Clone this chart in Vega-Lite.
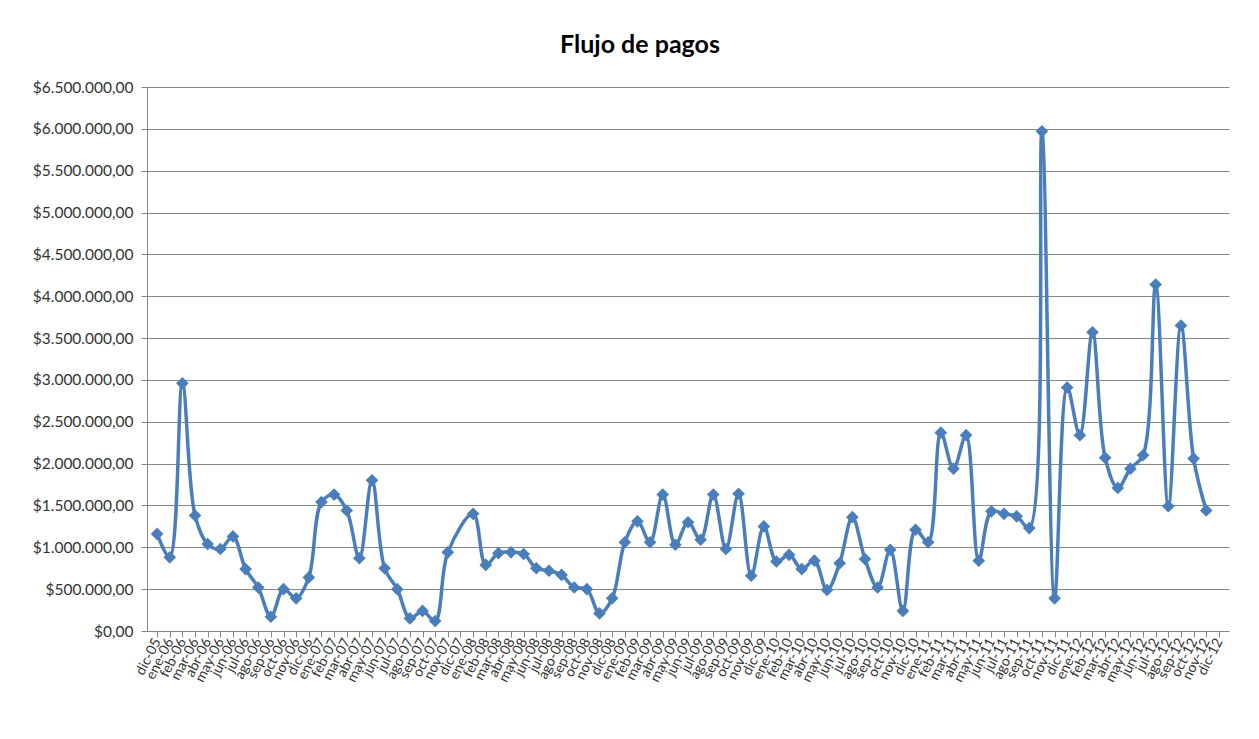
{
  "$schema": "https://vega.github.io/schema/vega-lite/v6.json",
  "width": 1082,
  "height": 544,
  "autosize": {"type": "none"},
  "padding": {"left": 147, "top": 87, "right": 30, "bottom": 108},
  "background": "white",
  "title": {
    "text": "Flujo de pagos",
    "font": "Lato",
    "fontSize": 25,
    "fontWeight": "bold",
    "color": "#000000",
    "anchor": "middle",
    "dx": -48,
    "offset": 22
  },
  "data": {
    "values": [
      {"mes": "dic-05", "pago": 1160000},
      {"mes": "ene-06", "pago": 880000},
      {"mes": "feb-06", "pago": 2960000},
      {"mes": "mar-06", "pago": 1380000},
      {"mes": "abr-06", "pago": 1040000},
      {"mes": "may-06", "pago": 980000},
      {"mes": "jun-06", "pago": 1130000},
      {"mes": "jul-06", "pago": 740000},
      {"mes": "ago-06", "pago": 520000},
      {"mes": "sep-06", "pago": 170000},
      {"mes": "oct-06", "pago": 500000},
      {"mes": "nov-06", "pago": 390000},
      {"mes": "dic-06", "pago": 640000},
      {"mes": "ene-07", "pago": 1540000},
      {"mes": "feb-07", "pago": 1630000},
      {"mes": "mar-07", "pago": 1440000},
      {"mes": "abr-07", "pago": 870000},
      {"mes": "may-07", "pago": 1800000},
      {"mes": "jun-07", "pago": 750000},
      {"mes": "jul-07", "pago": 500000},
      {"mes": "ago-07", "pago": 150000},
      {"mes": "sep-07", "pago": 240000},
      {"mes": "oct-07", "pago": 120000},
      {"mes": "nov-07", "pago": 940000},
      {"mes": "dic-07", "pago": null},
      {"mes": "ene-08", "pago": 1400000},
      {"mes": "feb-08", "pago": 790000},
      {"mes": "mar-08", "pago": 930000},
      {"mes": "abr-08", "pago": 940000},
      {"mes": "may-08", "pago": 920000},
      {"mes": "jun-08", "pago": 750000},
      {"mes": "jul-08", "pago": 720000},
      {"mes": "ago-08", "pago": 670000},
      {"mes": "sep-08", "pago": 520000},
      {"mes": "oct-08", "pago": 500000},
      {"mes": "nov-08", "pago": 210000},
      {"mes": "dic-08", "pago": 390000},
      {"mes": "ene-09", "pago": 1060000},
      {"mes": "feb-09", "pago": 1310000},
      {"mes": "mar-09", "pago": 1060000},
      {"mes": "abr-09", "pago": 1630000},
      {"mes": "may-09", "pago": 1030000},
      {"mes": "jun-09", "pago": 1300000},
      {"mes": "jul-09", "pago": 1090000},
      {"mes": "ago-09", "pago": 1630000},
      {"mes": "sep-09", "pago": 980000},
      {"mes": "oct-09", "pago": 1640000},
      {"mes": "nov-09", "pago": 660000},
      {"mes": "dic-09", "pago": 1250000},
      {"mes": "ene-10", "pago": 830000},
      {"mes": "feb-10", "pago": 910000},
      {"mes": "mar-10", "pago": 740000},
      {"mes": "abr-10", "pago": 840000},
      {"mes": "may-10", "pago": 490000},
      {"mes": "jun-10", "pago": 810000},
      {"mes": "jul-10", "pago": 1360000},
      {"mes": "ago-10", "pago": 860000},
      {"mes": "sep-10", "pago": 520000},
      {"mes": "oct-10", "pago": 970000},
      {"mes": "nov-10", "pago": 240000},
      {"mes": "dic-10", "pago": 1210000},
      {"mes": "ene-11", "pago": 1060000},
      {"mes": "feb-11", "pago": 2370000},
      {"mes": "mar-11", "pago": 1940000},
      {"mes": "abr-11", "pago": 2340000},
      {"mes": "may-11", "pago": 840000},
      {"mes": "jun-11", "pago": 1430000},
      {"mes": "jul-11", "pago": 1400000},
      {"mes": "ago-11", "pago": 1370000},
      {"mes": "sep-11", "pago": 1230000},
      {"mes": "oct-11", "pago": 5970000},
      {"mes": "nov-11", "pago": 390000},
      {"mes": "dic-11", "pago": 2910000},
      {"mes": "ene-12", "pago": 2340000},
      {"mes": "feb-12", "pago": 3570000},
      {"mes": "mar-12", "pago": 2070000},
      {"mes": "abr-12", "pago": 1710000},
      {"mes": "may-12", "pago": 1940000},
      {"mes": "jun-12", "pago": 2100000},
      {"mes": "jul-12", "pago": 4140000},
      {"mes": "ago-12", "pago": 1490000},
      {"mes": "sep-12", "pago": 3650000},
      {"mes": "oct-12", "pago": 2060000},
      {"mes": "nov-12", "pago": 1440000},
      {"mes": "dic-12", "pago": null}
    ]
  },
  "encoding": {
    "x": {
      "field": "mes",
      "type": "ordinal",
      "sort": null,
      "title": null,
      "scale": {
        "type": "point",
        "padding": 0.8,
        "domain": ["dic-05","ene-06","feb-06","mar-06","abr-06","may-06","jun-06","jul-06","ago-06","sep-06","oct-06","nov-06","dic-06","ene-07","feb-07","mar-07","abr-07","may-07","jun-07","jul-07","ago-07","sep-07","oct-07","nov-07","dic-07","ene-08","feb-08","mar-08","abr-08","may-08","jun-08","jul-08","ago-08","sep-08","oct-08","nov-08","dic-08","ene-09","feb-09","mar-09","abr-09","may-09","jun-09","jul-09","ago-09","sep-09","oct-09","nov-09","dic-09","ene-10","feb-10","mar-10","abr-10","may-10","jun-10","jul-10","ago-10","sep-10","oct-10","nov-10","dic-10","ene-11","feb-11","mar-11","abr-11","may-11","jun-11","jul-11","ago-11","sep-11","oct-11","nov-11","dic-11","ene-12","feb-12","mar-12","abr-12","may-12","jun-12","jul-12","ago-12","sep-12","oct-12","nov-12","dic-12"]
      },
      "axis": {
        "labelAngle": -63,
        "labelFont": "Lato",
        "labelFontSize": 14,
        "labelColor": "#333333",
        "labelPadding": 2,
        "labelOverlap": false,
        "domain": true,
        "domainColor": "#868686",
        "tickColor": "#868686",
        "tickSize": 6,
        "grid": false
      }
    },
    "y": {
      "field": "pago",
      "type": "quantitative",
      "title": null,
      "scale": {"domain": [0, 6500000], "nice": false},
      "axis": {
        "tickCount": 13,
        "labelExpr": "'$' + replace(replace(replace(format(datum.value, ',.2f'), regexp(',', 'g'), '#'), regexp('[.]', 'g'), ','), regexp('#', 'g'), '.')",
        "labelFont": "Lato",
        "labelFontSize": 15.5,
        "labelColor": "#333333",
        "labelPadding": 8,
        "domainColor": "#868686",
        "tickColor": "#868686",
        "tickSize": 6,
        "grid": true,
        "gridColor": "#868686",
        "gridWidth": 1
      }
    }
  },
  "layer": [
    {
      "transform": [{"filter": "isValid(datum.pago)"}],
      "mark": {"type": "line", "interpolate": "catmull-rom", "color": "#4A7EBB", "strokeWidth": 3.5},
      "encoding": {}
    },
    {
      "transform": [{"filter": "isValid(datum.pago)"}],
      "mark": {"type": "point", "shape": "diamond", "filled": true, "color": "#4A7EBB", "size": 160, "opacity": 1},
      "encoding": {}
    }
  ],
  "config": {
    "view": {"stroke": null}
  }
}
